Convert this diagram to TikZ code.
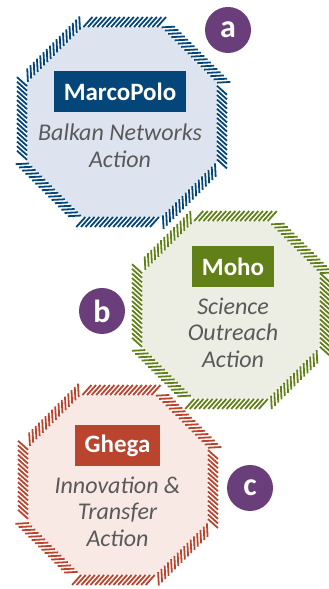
\documentclass[tikz,border=0pt]{standalone}
\usepackage{fontspec}
\setmainfont{Carlito}
\usetikzlibrary{decorations.markings,positioning}

\definecolor{polo}{RGB}{5,70,122}
\definecolor{polofill}{RGB}{221,228,240}
\definecolor{moho}{RGB}{98,128,24}
\definecolor{mohofill}{RGB}{236,238,228}
\definecolor{ghega}{RGB}{186,68,45}
\definecolor{ghegafill}{RGB}{248,233,229}
\definecolor{plum}{RGB}{106,62,122}
\definecolor{slate}{RGB}{89,89,89}

% octagon with flat top, centre #1, corner radius #2
\newcommand{\octpath}[2]{(#1) +(22.5:#2) -- +(67.5:#2) -- +(112.5:#2) -- +(157.5:#2)
  -- +(202.5:#2) -- +(247.5:#2) -- +(292.5:#2) -- +(337.5:#2) -- cycle}

\tikzset{
  hatched/.style={postaction={decorate},
    decoration={markings,
      mark=between positions 0 and 1 step 4.6pt with
        {\draw[#1,line width=1.8pt] (0pt,0pt) -- (-9pt,-10pt);}}},
  titlebox/.style={text=white, font=\bfseries\fontsize{25}{25}\selectfont,
    minimum height=41pt, inner xsep=9.5pt, inner ysep=0pt},
  actiontext/.style={text=slate, font=\itshape\fontsize{24}{26.5}\selectfont,
    align=center, inner sep=0pt},
  badge/.style={circle, fill=plum, text=white, minimum size=46pt, inner sep=0pt,
    font=\bfseries\fontsize{32}{32}\selectfont},
}

\begin{document}
\begin{tikzpicture}[x=1pt,y=1pt]
	\useasboundingbox (0,0) rectangle (329,589);

	% The three octagons
	\fill[polofill, hatched=polo] \octpath{122,467}{102.8};
	\fill[mohofill, hatched=moho] \octpath{231,279}{96.3};
	\fill[ghegafill, hatched=ghega] \octpath{118,104}{97.4};

	% MarcoPolo
	\node[titlebox, fill=polo] (marco) at (120,497) {MarcoPolo};
	\node[actiontext, below=11pt of marco] (marcotext) {Balkan Networks\\Action};

	% Moho
	\node[titlebox, fill=moho] (moho) at (233,322) {Moho};
	\node[actiontext, below=10pt of moho] (mohotext) {Science\\Outreach\\Action};

	% Ghega
	\node[titlebox, fill=ghega] (ghega) at (117.5,143) {Ghega};
	\node[actiontext, below=10pt of ghega] (ghegatext) {Innovation \&\\Transfer\\Action};

	% The letters
	\node[badge] (a) at (228,559) {a};
	\node[badge] (b) at (102,278) {b};
	\node[badge] (c) at (250,101) {c};
\end{tikzpicture}
\end{document}
